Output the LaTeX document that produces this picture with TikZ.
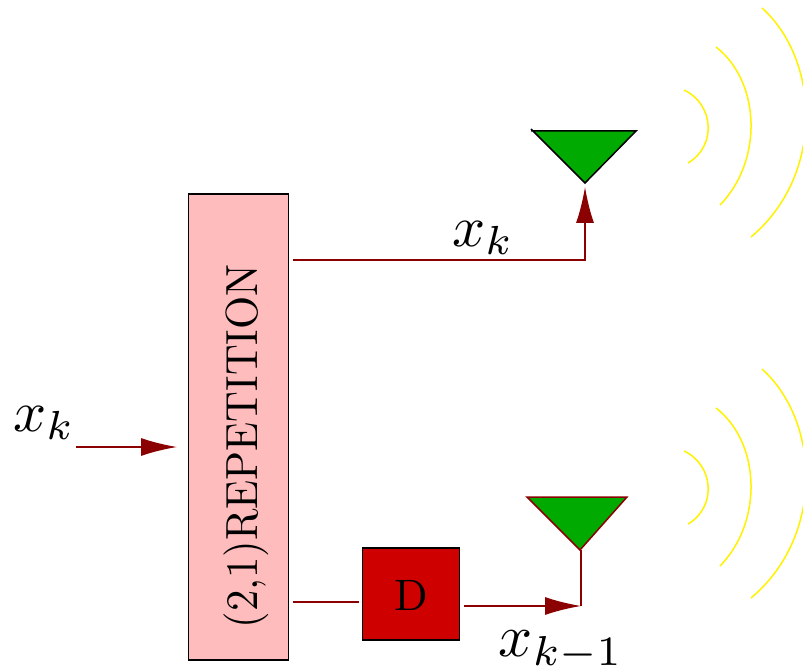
\documentclass[tikz,border=0pt]{standalone}
\usetikzlibrary{arrows.meta}
\definecolor{wire}{HTML}{8B0000}
\definecolor{boxpink}{HTML}{FFBCBC}
\definecolor{delayred}{HTML}{CF0000}
\definecolor{antgreen}{HTML}{00AA00}
\tikzset{
  wirel/.style={draw=wire,line width=1.5pt},
  arrowl/.style={wirel,-{Latex[length=36pt,width=18pt]}},
  wave/.style={draw=yellow,line width=1.5pt},
  lab/.style={inner sep=0pt,scale=5.8},
  ant/.style={fill=antgreen,line width=1.5pt,line join=miter},
  blk/.style={draw=black,line width=1.5pt,inner sep=0pt,anchor=north west,outer sep=0pt},
  romantext/.style={inner sep=0pt}
}
\begin{document}
\begin{tikzpicture}[x=1pt,y=-1pt]
\useasboundingbox (0,0) rectangle (803,668);
% blocks
\node[blk,fill=boxpink,minimum width=100pt,minimum height=466pt] (rep) at (188.5,194) {};
\node[romantext,rotate=90,xscale=4.27,yscale=4.5] (reptext) at (246.5,446.5) {(2,1)REPETITION};
\node[blk,fill=delayred,minimum width=97pt,minimum height=92pt] (delay) at (362.5,548) {};
\node[romantext,scale=4.4] (dtext) at (411,595) {D};
% antennas
\coordinate (antAl) at (531,129);
\coordinate (antAp) at (585,183);
\coordinate (antAr) at (636,131);
\coordinate (antAm) at (531,131);
\coordinate (antBl) at (527,497);
\coordinate (antBp) at (580,550);
\coordinate (antBr) at (627,497);
\draw[ant,draw=black] (antAl) -- (antAp) -- (antAr) -- (antAm);
\draw[ant,draw=wire] (antBl) -- (antBp) -- (antBr) -- cycle;
% radiation
\foreach \dy in {0,361}{
  \begin{scope}[shift={(0,\dy)}]
    \draw[wave] (684,90) .. controls (714,104) and (717,146) .. (688,163);
    \draw[wave] (716,47) .. controls (761,82) and (763,161) .. (720,205);
    \draw[wave] (762,8) .. controls (820,60) and (825,175) .. (751,237);
  \end{scope}
}
% connectors
\coordinate (inS) at (76,447);
\coordinate (inE) at (177,447);
\coordinate (upS) at (293,260);
\coordinate (upC) at (585,260);
\coordinate (upE) at (585,187);
\coordinate (loS) at (293,602);
\coordinate (loE) at (359,602);
\coordinate (dS) at (464,606);
\coordinate (dE) at (581,606);
\coordinate (dU) at (581,550);
\draw[arrowl] (inS) -- (inE);
\draw[arrowl] (upS) -- (upC) -- (upE);
\draw[wirel] (loS) -- (loE);
\draw[arrowl] (dS) -- (dE);
\draw[wirel] (dE) -- (dU);
% labels
\node[lab] (l1) at (44,423) {$x_k$};
\node[lab] (l2) at (483,238) {$x_k$};
\node[lab,scale=1.03] (l3) at (561,651) {$x_{k-1}$};
\end{tikzpicture}
\end{document}
